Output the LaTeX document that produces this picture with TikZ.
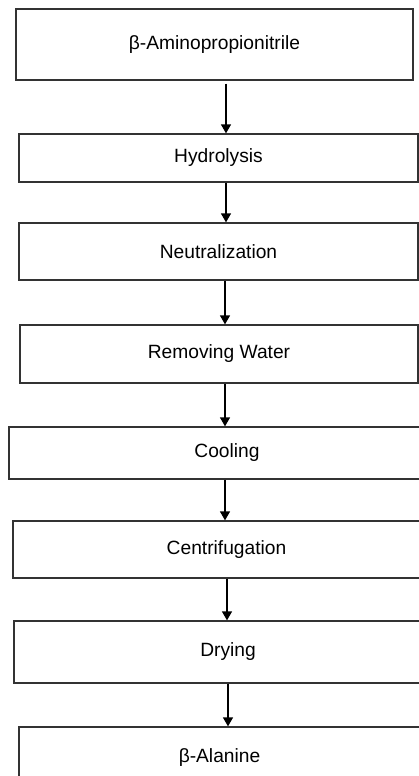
\documentclass[tikz,border=0pt]{standalone}
\usepackage{fontspec}
\setmainfont{Liberation Sans}
\usetikzlibrary{arrows.meta}

\begin{document}
\begin{tikzpicture}[x=1pt, y=-1pt,
                        every node/.style={rectangle, draw=black!80, line width=1.3pt, inner sep=0pt,
                                           font=\fontsize{19.2}{23}\selectfont},
                        every edge/.style={draw, line width=1.3pt, black},
                        ->/.style={-{Triangle[length=9pt,width=10pt]}}]

                        \useasboundingbox (0,0) rectangle (419,776);
                        \clip (0,0) rectangle (419,776);

                        % Process chain
                        \node[minimum width=397, minimum height=71] (A) at (214.5,44.5) {β-Aminopropionitrile}; % Raw material
                        \node[minimum width=399, minimum height=48] (B) at (218.5,158) {Hydrolysis}; % Step 1
                        \node[minimum width=399, minimum height=57] (C) at (218.5,251.5) {Neutralization}; % Step 2
                        \node[minimum width=398, minimum height=58] (D) at (219,354) {Removing Water}; % Step 3
                        \node[minimum width=436, minimum height=52] (E) at (227,453) {Cooling}; % Step 4
                        \node[minimum width=427, minimum height=57] (F) at (226.5,549.5) {Centrifugation}; % Step 5
                        \node[minimum width=428, minimum height=62] (G) at (228,652) {Drying}; % Step 6
                        \node[minimum width=401, minimum height=62] (H) at (219.5,758) {β-Alanine}; % Product

                        % Define edges
                        \path [->]([xshift=11.5pt, yshift=-3pt]A.south) edge ([xshift=7.5pt]B.north);
                        \path [->]([xshift=7.5pt]B.south) edge ([xshift=7.5pt]C.north);
                        \path [->]([xshift=6.5pt]C.south) edge ([xshift=6pt]D.north);
                        \path [->]([xshift=6pt]D.south) edge ([xshift=-2pt]E.north);
                        \path [->]([xshift=-2pt]E.south) edge ([xshift=-1.5pt]F.north);
                        \path [->]([xshift=0.5pt]F.south) edge ([xshift=-1pt]G.north);
                        \path [->]([xshift=0pt]G.south) edge ([xshift=8.5pt]H.north);
                    \end{tikzpicture}
\end{document}
